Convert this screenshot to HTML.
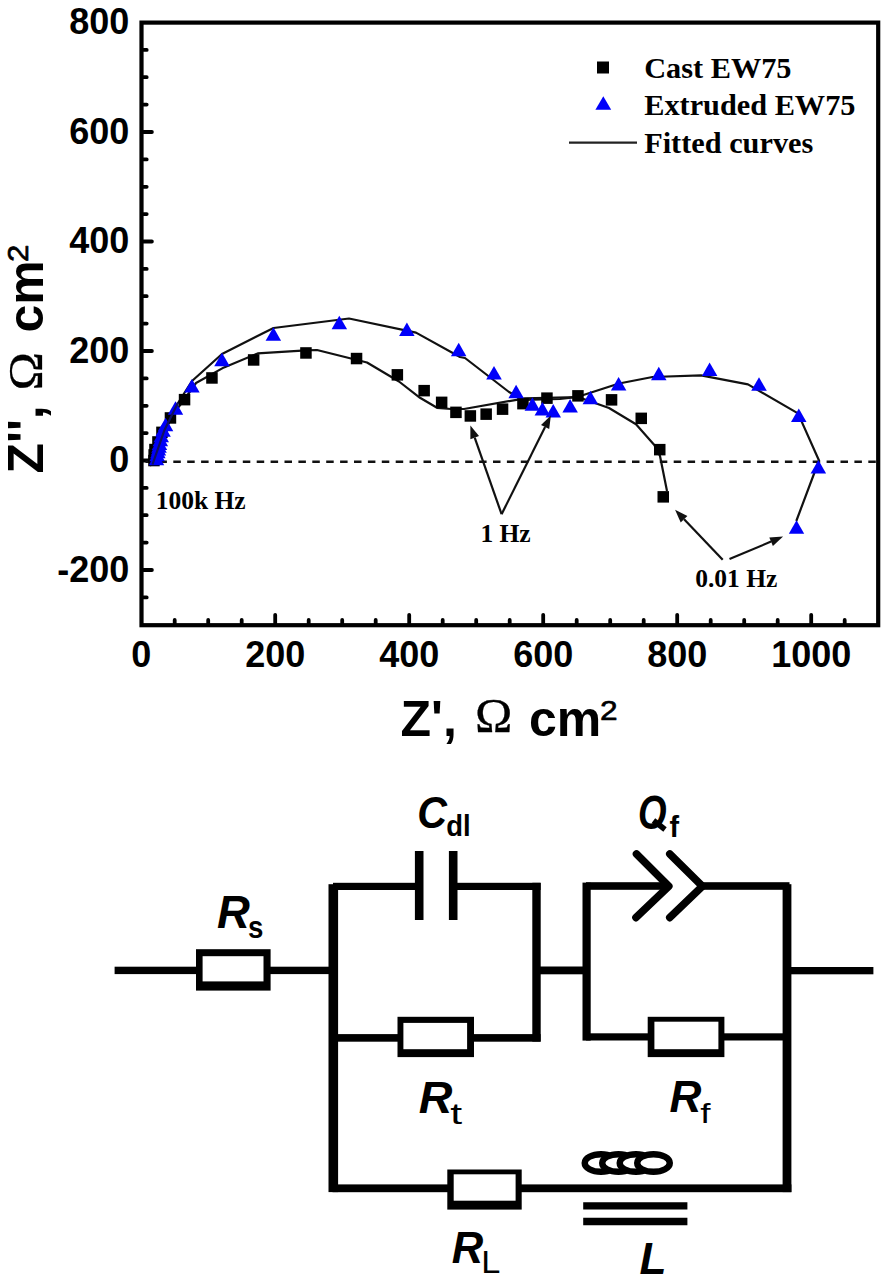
<!DOCTYPE html>
<html><head><meta charset="utf-8"><style>
html,body{margin:0;padding:0;background:#fff;}
body{width:883px;height:1280px;overflow:hidden;}
svg{display:block;}
</style></head><body>
<svg width="883" height="1280" viewBox="0 0 883 1280">
<rect x="141.5" y="22.6" width="736.7" height="602.6" fill="none" stroke="#000" stroke-width="4.2"/>
<path d="M174.7 623.2V620.0 M208.2 623.2V620.0 M241.7 623.2V620.0 M275.2 623.2V614.8 M308.7 623.2V620.0 M342.2 623.2V620.0 M375.7 623.2V620.0 M409.2 623.2V614.8 M442.7 623.2V620.0 M476.2 623.2V620.0 M509.7 623.2V620.0 M543.2 623.2V614.8 M576.7 623.2V620.0 M610.2 623.2V620.0 M643.7 623.2V620.0 M677.2 623.2V614.8 M710.7 623.2V620.0 M744.2 623.2V620.0 M777.7 623.2V620.0 M811.2 623.2V614.8 M844.7 623.2V620.0 M143.5 597.4H146.7 M143.5 570.0H151.9 M143.5 542.6H146.7 M143.5 515.2H146.7 M143.5 487.9H146.7 M143.5 460.5H151.9 M143.5 433.1H146.7 M143.5 405.8H146.7 M143.5 378.4H146.7 M143.5 351.0H151.9 M143.5 323.6H146.7 M143.5 296.2H146.7 M143.5 268.9H146.7 M143.5 241.5H151.9 M143.5 214.1H146.7 M143.5 186.8H146.7 M143.5 159.4H146.7 M143.5 132.0H151.9 M143.5 104.6H146.7 M143.5 77.2H146.7 M143.5 49.9H146.7" stroke="#000" stroke-width="3.8" stroke-linecap="round" fill="none"/>
<text x="129.3" y="581.8" text-anchor="end" font-family='"Liberation Sans", sans-serif' font-weight="bold" font-size="36">-200</text>
<text x="129.3" y="472.3" text-anchor="end" font-family='"Liberation Sans", sans-serif' font-weight="bold" font-size="36">0</text>
<text x="129.3" y="362.8" text-anchor="end" font-family='"Liberation Sans", sans-serif' font-weight="bold" font-size="36">200</text>
<text x="129.3" y="253.3" text-anchor="end" font-family='"Liberation Sans", sans-serif' font-weight="bold" font-size="36">400</text>
<text x="129.3" y="143.8" text-anchor="end" font-family='"Liberation Sans", sans-serif' font-weight="bold" font-size="36">600</text>
<text x="129.3" y="34.3" text-anchor="end" font-family='"Liberation Sans", sans-serif' font-weight="bold" font-size="36">800</text>
<text x="141.2" y="666.8" text-anchor="middle" font-family='"Liberation Sans", sans-serif' font-weight="bold" font-size="36">0</text>
<text x="275.2" y="666.8" text-anchor="middle" font-family='"Liberation Sans", sans-serif' font-weight="bold" font-size="36">200</text>
<text x="409.2" y="666.8" text-anchor="middle" font-family='"Liberation Sans", sans-serif' font-weight="bold" font-size="36">400</text>
<text x="543.2" y="666.8" text-anchor="middle" font-family='"Liberation Sans", sans-serif' font-weight="bold" font-size="36">600</text>
<text x="677.2" y="666.8" text-anchor="middle" font-family='"Liberation Sans", sans-serif' font-weight="bold" font-size="36">800</text>
<text x="811.2" y="666.8" text-anchor="middle" font-family='"Liberation Sans", sans-serif' font-weight="bold" font-size="36">1000</text>
<g transform="translate(400.5 735.5)"><text x="0" y="0" font-family='"Liberation Sans", sans-serif' font-weight="bold" font-size="50">Z',</text><text transform="translate(74.58 -3.10) scale(0.5031 0.4818)" font-family='"Liberation Serif", serif' font-weight="normal" font-style="normal" font-size="100" stroke="#000" stroke-width="0.60" stroke-linejoin="round">&#937;</text><text x="128.5" y="0" font-family='"Liberation Sans", sans-serif' font-weight="bold" font-size="50">cm</text><text transform="translate(199.42 -15.80) scale(0.3165 0.2800)" font-family='"Liberation Sans", sans-serif' font-weight="normal" font-style="normal" font-size="100" stroke="#000" stroke-width="2.21" stroke-linejoin="round">2</text></g>
<g transform="translate(42.7 473.5) rotate(-90)"><text x="0" y="0" font-family='"Liberation Sans", sans-serif' font-weight="bold" font-size="50">Z'',</text><text transform="translate(83.11 -0.30) scale(0.5172 0.4818)" font-family='"Liberation Serif", serif' font-weight="normal" font-style="normal" font-size="100" stroke="#000" stroke-width="0.58" stroke-linejoin="round">&#937;</text><text x="141" y="0" font-family='"Liberation Sans", sans-serif' font-weight="bold" font-size="50">cm</text><text transform="translate(211.54 -15.10) scale(0.3121 0.3000)" font-family='"Liberation Sans", sans-serif' font-weight="normal" font-style="normal" font-size="100" stroke="#000" stroke-width="2.24" stroke-linejoin="round">2</text></g>
<line x1="144.5" y1="461.7" x2="876.2" y2="461.7" stroke="#111" stroke-width="2.4" stroke-dasharray="7.5 6.4" stroke-dashoffset="-1"/>
<polyline points="150,462 158,440 167,422 184,400 196,383 224,367.4 257.7,353.4 306,350.4 317,350 367,362.5 399,381.5 420,397.8 437,407.8 451,409 464,409 525,398.3 578,397 609,408 636,424.3 654.3,445 660,456 667,491" fill="none" stroke="#111" stroke-width="2.2" stroke-linejoin="round"/>
<polyline points="150,466 160,444 170,420 178,403 192,381 222,354 273.5,328 349,318.5 416,332.6 460,357 465,358 509,392 524,400 560,399 578,396.8 619,383.5 652.5,377 701,375.3 748,384.4 798,413.4 819,460.5 796.3,521" fill="none" stroke="#111" stroke-width="2.2" stroke-linejoin="round"/>
<g fill="#000"><rect x="148.2" y="454.8" width="11.5" height="11.5"/><rect x="148.4" y="449.2" width="11.5" height="11.5"/><rect x="149.2" y="443.8" width="11.5" height="11.5"/><rect x="152.2" y="436.2" width="11.5" height="11.5"/><rect x="156.2" y="426.6" width="11.5" height="11.5"/><rect x="164.7" y="412.2" width="11.5" height="11.5"/><rect x="178.8" y="393.9" width="11.5" height="11.5"/><rect x="206.2" y="372.2" width="11.5" height="11.5"/><rect x="247.9" y="354.2" width="11.5" height="11.5"/><rect x="300.2" y="347.2" width="11.5" height="11.5"/><rect x="350.8" y="352.8" width="11.5" height="11.5"/><rect x="391.6" y="369.1" width="11.5" height="11.5"/><rect x="418.4" y="384.9" width="11.5" height="11.5"/><rect x="435.9" y="396.6" width="11.5" height="11.5"/><rect x="450.2" y="406.6" width="11.5" height="11.5"/><rect x="464.6" y="410.2" width="11.5" height="11.5"/><rect x="480.4" y="408.4" width="11.5" height="11.5"/><rect x="496.8" y="403.4" width="11.5" height="11.5"/><rect x="517.2" y="397.9" width="11.5" height="11.5"/><rect x="541.2" y="392.4" width="11.5" height="11.5"/><rect x="572.2" y="390.1" width="11.5" height="11.5"/><rect x="605.8" y="394.1" width="11.5" height="11.5"/><rect x="635.5" y="412.6" width="11.5" height="11.5"/><rect x="654.0" y="443.9" width="11.5" height="11.5"/><rect x="657.5" y="491.1" width="11.5" height="11.5"/></g>
<g fill="#0000fa"><path d="M156.5 451.8L164.2 465.2H148.8Z"/><path d="M157.2 447.8L164.9 461.2H149.4Z"/><path d="M157.8 444.8L165.6 458.2H150.1Z"/><path d="M158.5 441.9L166.2 455.4H150.8Z"/><path d="M159.0 439.2L166.8 452.8H151.2Z"/><path d="M159.4 436.4L167.2 449.9H151.7Z"/><path d="M160.3 432.8L168.1 446.2H152.6Z"/><path d="M161.2 428.8L169.0 442.2H153.5Z"/><path d="M163.0 423.2L170.8 436.8H155.2Z"/><path d="M165.6 417.8L173.3 431.2H157.8Z"/><path d="M175.5 401.2L183.2 414.8H167.8Z"/><path d="M191.9 378.9L199.7 392.4H184.2Z"/><path d="M222.0 352.8L229.8 366.2H214.2Z"/><path d="M273.4 327.2L281.1 340.8H265.6Z"/><path d="M339.3 315.8L347.1 329.2H331.6Z"/><path d="M406.9 322.6L414.6 336.1H399.1Z"/><path d="M458.7 342.8L466.4 356.2H450.9Z"/><path d="M494.0 366.1L501.8 379.6H486.2Z"/><path d="M516.1 384.8L523.9 398.2H508.4Z"/><path d="M532.4 397.2L540.1 410.8H524.6Z"/><path d="M542.4 402.1L550.1 415.6H534.6Z"/><path d="M553.2 403.9L561.0 417.4H545.5Z"/><path d="M570.1 398.9L577.9 412.4H562.4Z"/><path d="M590.4 390.8L598.1 404.2H582.6Z"/><path d="M618.6 376.9L626.4 390.4H610.9Z"/><path d="M658.8 366.8L666.5 380.2H651.0Z"/><path d="M709.6 362.6L717.4 376.1H701.9Z"/><path d="M759.0 377.2L766.8 390.8H751.2Z"/><path d="M798.8 408.4L806.5 421.9H791.0Z"/><path d="M818.4 459.9L826.1 473.4H810.6Z"/><path d="M796.5 520.2L804.2 533.8H788.8Z"/></g>
<polyline points="152.5,464.5 164.5,430 178,402.7" fill="none" stroke="#101060" stroke-width="2.2"/>
<rect x="597" y="61.5" width="12" height="12" fill="#000"/>
<path d="M603.3 96.2L611.2 109.8H595.4Z" fill="#0000fa"/>
<line x1="569" y1="142.6" x2="637" y2="142.6" stroke="#222" stroke-width="2.2"/>
<text x="644.2" y="77.5" font-family='"Liberation Serif", serif' font-weight="bold" font-size="30.3">Cast EW75</text>
<text x="644.2" y="115.2" font-family='"Liberation Serif", serif' font-weight="bold" font-size="30.3">Extruded EW75</text>
<text x="644.2" y="153.4" font-family='"Liberation Serif", serif' font-weight="bold" font-size="30.3">Fitted curves</text>
<line x1="501.6" y1="514.2" x2="474.7" y2="437.7" stroke="#111" stroke-width="2.2"/>
<path d="M470.4 425.4L479.0 436.1L470.4 439.2Z" fill="#111"/>
<line x1="501.6" y1="514.2" x2="545.1" y2="427.0" stroke="#111" stroke-width="2.2"/>
<path d="M550.9 415.4L549.2 429.1L541.0 425.0Z" fill="#111"/>
<line x1="722.7" y1="559.7" x2="684.1" y2="519.2" stroke="#111" stroke-width="2.2"/>
<path d="M675.1 509.8L687.4 516.0L680.7 522.4Z" fill="#111"/>
<line x1="729.5" y1="559" x2="771.1" y2="541.6" stroke="#111" stroke-width="2.2"/>
<path d="M783.1 536.6L772.9 545.9L769.3 537.4Z" fill="#111"/>
<text x="155.7" y="509" font-family='"Liberation Serif", serif' font-weight="bold" font-size="25.5">100k Hz</text>
<text x="480.4" y="541.6" font-family='"Liberation Serif", serif' font-weight="bold" font-size="25.5">1 Hz</text>
<text x="695.2" y="587.2" font-family='"Liberation Serif", serif' font-weight="bold" font-size="25.5">0.01 Hz</text>
<g fill="#000"><rect x="114.6" y="966.7" width="82.4" height="7.4"/><rect x="270.0" y="966.7" width="60.0" height="7.4"/><rect x="328.5" y="884.2" width="9.6" height="307.9"/><rect x="333.0" y="882.8" width="83.0" height="7.2"/><rect x="457.0" y="882.8" width="83.6" height="7.2"/><rect x="532.3" y="882.8" width="8.4" height="158.8"/><rect x="333.0" y="1034.1" width="65.0" height="7.6"/><rect x="473.0" y="1034.1" width="67.6" height="7.6"/><rect x="540.0" y="966.5" width="43.0" height="7.8"/><rect x="582.5" y="882.6" width="8.2" height="158.0"/><rect x="586.0" y="882.2" width="82.0" height="7.6"/><rect x="700.0" y="882.2" width="89.5" height="7.6"/><rect x="782.6" y="884.2" width="8.8" height="307.9"/><rect x="586.0" y="1033.3" width="62.0" height="7.2"/><rect x="724.0" y="1033.3" width="67.0" height="7.2"/><rect x="787.0" y="967.0" width="86.4" height="7.3"/><rect x="332.5" y="1184.4" width="458.9" height="7.8"/></g>
<rect x="196.0" y="949.2" width="74.6" height="41.4" fill="#000"/>
<rect x="202.6" y="956.2" width="60.9" height="25.2" fill="#fff"/>
<rect x="397.5" y="1016.8" width="76.5" height="40.3" fill="#000"/>
<rect x="403.4" y="1022.9" width="63.7" height="26.3" fill="#fff"/>
<rect x="647.7" y="1016.8" width="76.7" height="40.3" fill="#000"/>
<rect x="654.4" y="1021.7" width="64.0" height="27.5" fill="#fff"/>
<rect x="447.3" y="1169.5" width="74.4" height="40.1" fill="#000"/>
<rect x="453.7" y="1174.3" width="61.9" height="26.4" fill="#fff"/>
<path d="M419.2 851V920M453.2 851V920" stroke="#000" stroke-width="8.6"/>
<path d="M636.5 854L668.8 886.2L636 917.6M669.8 854L702.4 886.2L669.8 917.6" stroke="#000" stroke-width="7.6" fill="none" stroke-linecap="round" stroke-linejoin="round"/>
<g fill="#fff" stroke="#000" stroke-width="6.4"><ellipse cx="601" cy="1163" rx="16.3" ry="8.8" /><ellipse cx="618.5" cy="1163" rx="16.3" ry="8.8" /><ellipse cx="636" cy="1163" rx="16.3" ry="8.8" /><ellipse cx="653.5" cy="1163" rx="16.3" ry="8.8" /></g>
<path d="M583.2 1205.9H687.4M583.2 1221.5H687.4" stroke="#000" stroke-width="7.4"/>
<text transform="translate(216.89 928.20) scale(0.4547 0.4652)" font-family='"Liberation Sans", sans-serif' font-weight="bold" font-style="italic" font-size="100">R</text>
<text transform="translate(247.93 938.09) scale(0.2771 0.3055)" font-family='"Liberation Sans", sans-serif' font-weight="bold" font-style="normal" font-size="100">s</text>
<text transform="translate(417.34 828.25) scale(0.4118 0.4521)" font-family='"Liberation Sans", sans-serif' font-weight="bold" font-style="italic" font-size="100">C</text>
<text transform="translate(446.30 836.11) scale(0.2744 0.2912)" font-family='"Liberation Sans", sans-serif' font-weight="bold" font-style="normal" font-size="100">dl</text>
<text transform="translate(638.06 829.13) scale(0.3676 0.4718)" font-family='"Liberation Sans", sans-serif' font-weight="bold" font-style="italic" font-size="100">O</text>
<path d="M653.5 820.5L665 829.5" stroke="#000" stroke-width="5.5" stroke-linecap="butt"/>
<text transform="translate(669.47 836.90) scale(0.2875 0.3021)" font-family='"Liberation Sans", sans-serif' font-weight="bold" font-style="normal" font-size="100">f</text>
<text transform="translate(418.87 1112.50) scale(0.4662 0.4522)" font-family='"Liberation Sans", sans-serif' font-weight="bold" font-style="italic" font-size="100">R</text>
<text transform="translate(450.26 1124.10) scale(0.4275 0.3038)" font-family='"Liberation Sans", sans-serif' font-weight="normal" font-style="normal" font-size="100">t</text>
<text transform="translate(669.42 1112.00) scale(0.4417 0.4449)" font-family='"Liberation Sans", sans-serif' font-weight="bold" font-style="italic" font-size="100">R</text>
<text transform="translate(700.35 1122.70) scale(0.3698 0.2745)" font-family='"Liberation Sans", sans-serif' font-weight="normal" font-style="normal" font-size="100">f</text>
<text transform="translate(451.83 1263.00) scale(0.4360 0.4391)" font-family='"Liberation Sans", sans-serif' font-weight="bold" font-style="italic" font-size="100">R</text>
<text transform="translate(481.25 1272.50) scale(0.3438 0.3203)" font-family='"Liberation Sans", sans-serif' font-weight="normal" font-style="normal" font-size="100">L</text>
<text transform="translate(639.42 1273.90) scale(0.4415 0.4391)" font-family='"Liberation Sans", sans-serif' font-weight="bold" font-style="italic" font-size="100">L</text>
</svg>
</body></html>
